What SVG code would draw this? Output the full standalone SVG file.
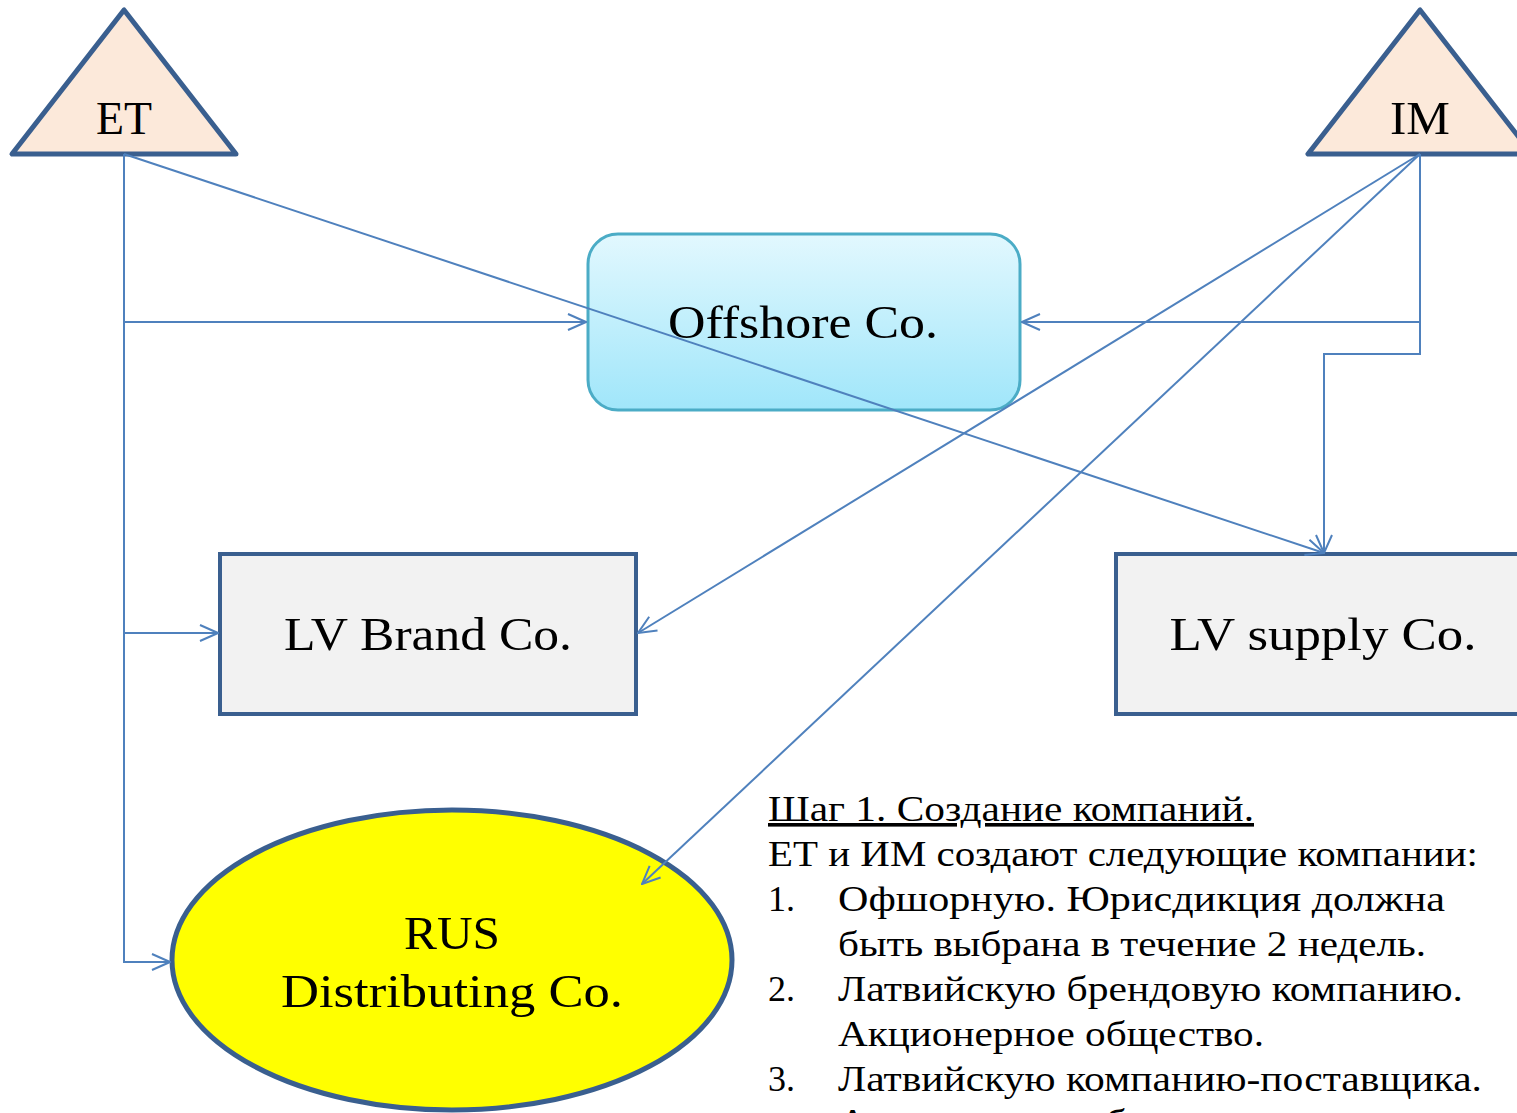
<svg xmlns="http://www.w3.org/2000/svg" width="1517" height="1113" viewBox="0 0 1517 1113">
<defs>
<linearGradient id="gOff" x1="0" y1="0" x2="0" y2="1">
<stop offset="0" stop-color="#E2F8FE"/>
<stop offset="1" stop-color="#A0E6FA"/>
</linearGradient>
<marker id="arr" viewBox="0 0 20 20" refX="19" refY="10" markerWidth="20" markerHeight="20" markerUnits="userSpaceOnUse" orient="auto">
<path d="M1,2 L19,10 L1,18" fill="none" stroke="#4F81BD" stroke-width="2"/>
</marker>
<style>
.tri{fill:#FCE9DA;stroke:#3A5F8F;stroke-width:5;stroke-linejoin:round}
.box{fill:#F2F2F2;stroke:#3A5F8F;stroke-width:4}
.lbl{font-family:"Liberation Serif","DejaVu Serif",serif;font-size:47px;fill:#000;text-anchor:middle}
.con{fill:none;stroke:#4F81BD;stroke-width:2}
.txt{font-family:"Liberation Serif","DejaVu Serif",serif;font-size:36px;fill:#000}
</style>
</defs>
<rect width="1517" height="1113" fill="#FFFFFF"/>
<g id="node-et">
<polygon class="tri" points="124,10 12,154 236,154"/>
<text class="lbl" x="124" y="134" textLength="56" lengthAdjust="spacingAndGlyphs">ET</text>
</g>
<g id="node-im">
<polygon class="tri" points="1420,10 1308,154 1532,154"/>
<text class="lbl" x="1420" y="134" textLength="60" lengthAdjust="spacingAndGlyphs">IM</text>
</g>
<g id="node-offshore">
<rect x="588" y="234" width="432" height="176" rx="30" fill="url(#gOff)" stroke="#4BACC6" stroke-width="3"/>
<text class="lbl" x="803" y="338" textLength="270" lengthAdjust="spacingAndGlyphs">Offshore Co.</text>
</g>
<g id="node-lvbrand">
<rect class="box" x="220" y="554" width="416" height="160"/>
<text class="lbl" x="428" y="650" textLength="288" lengthAdjust="spacingAndGlyphs">LV Brand Co.</text>
</g>
<g id="node-lvsupply">
<rect class="box" x="1116" y="554" width="420" height="160"/>
<text class="lbl" x="1323" y="650" textLength="307" lengthAdjust="spacingAndGlyphs">LV supply Co.</text>
</g>
<g id="node-rus">
<ellipse cx="452" cy="960" rx="280" ry="150" fill="#FFFF00" stroke="#3A5F8F" stroke-width="5"/>
<text class="lbl" x="452" y="949" textLength="96" lengthAdjust="spacingAndGlyphs">RUS</text>
<text class="lbl" x="452" y="1007" textLength="342" lengthAdjust="spacingAndGlyphs">Distributing Co.</text>
</g>
<g id="connectors">
<path class="con" d="M124,154 L124,962 L170,962" marker-end="url(#arr)"/>
<path class="con" d="M124,322 L586,322" marker-end="url(#arr)"/>
<path class="con" d="M124,633 L218,633" marker-end="url(#arr)"/>
<path class="con" d="M124,154 L1324,553" marker-end="url(#arr)"/>
<path class="con" d="M1420,154 L1420,322 L1022,322" marker-end="url(#arr)"/>
<path class="con" d="M1420,322 L1420,354 L1324,354 L1324,553" marker-end="url(#arr)"/>
<path class="con" d="M1420,154 L638,633" marker-end="url(#arr)"/>
<path class="con" d="M1420,154 L642,884" marker-end="url(#arr)"/>
</g>
<g id="notes">
<text class="txt" x="768" y="821" text-decoration="underline" textLength="486" lengthAdjust="spacingAndGlyphs">Шаг 1. Создание компаний.</text>
<text class="txt" x="768" y="866" textLength="710" lengthAdjust="spacingAndGlyphs">ЕТ и ИМ создают следующие компании:</text>
<text class="txt" x="768" y="911">1.</text>
<text class="txt" x="838" y="911" textLength="607" lengthAdjust="spacingAndGlyphs">Офшорную. Юрисдикция должна</text>
<text class="txt" x="838" y="956" textLength="588" lengthAdjust="spacingAndGlyphs">быть выбрана в течение 2 недель.</text>
<text class="txt" x="768" y="1001">2.</text>
<text class="txt" x="838" y="1001" textLength="625" lengthAdjust="spacingAndGlyphs">Латвийскую брендовую компанию.</text>
<text class="txt" x="838" y="1046" textLength="426" lengthAdjust="spacingAndGlyphs">Акционерное общество.</text>
<text class="txt" x="768" y="1091">3.</text>
<text class="txt" x="838" y="1091" textLength="644" lengthAdjust="spacingAndGlyphs">Латвийскую компанию-поставщика.</text>
<text class="txt" x="838" y="1134" textLength="426" lengthAdjust="spacingAndGlyphs">Акционерное общество.</text>
</g>
</svg>
